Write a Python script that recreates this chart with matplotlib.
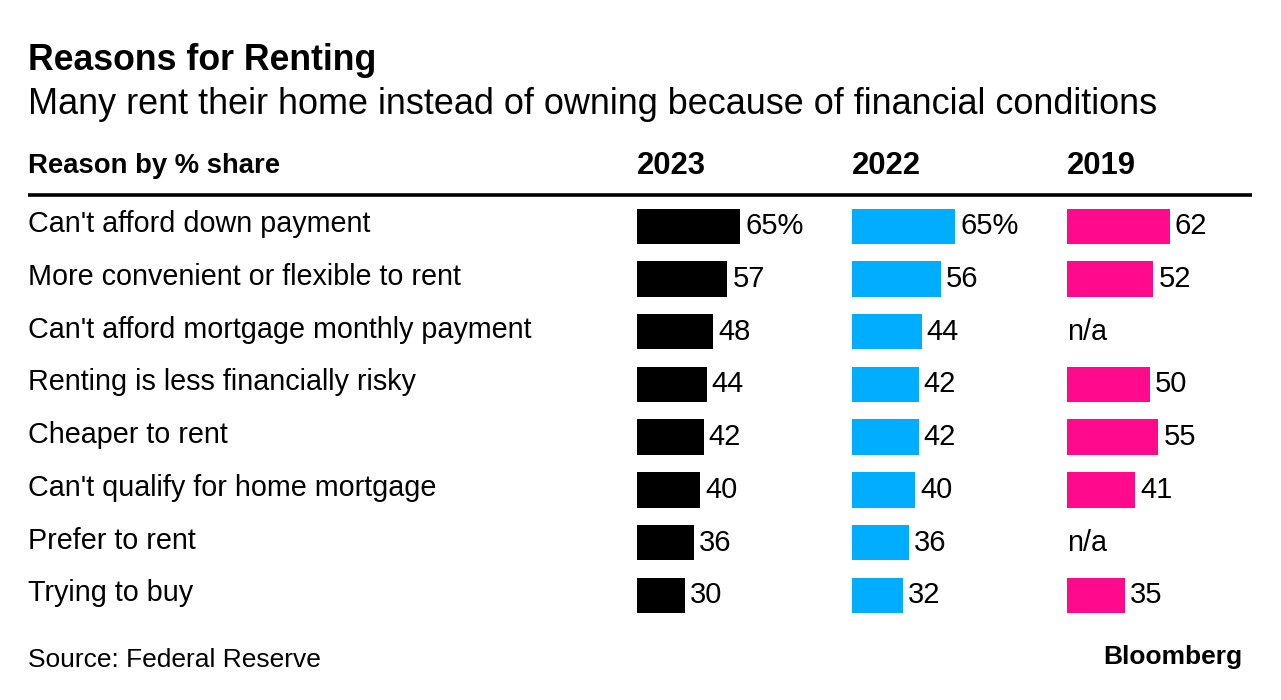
import matplotlib
matplotlib.use("Agg")
import matplotlib.pyplot as plt

reasons = [
    "Can't afford down payment",
    "More convenient or flexible to rent",
    "Can't afford mortgage monthly payment",
    "Renting is less financially risky",
    "Cheaper to rent",
    "Can't qualify for home mortgage",
    "Prefer to rent",
    "Trying to buy",
]
years = ["2023", "2022", "2019"]
v2023 = [65, 57, 48, 44, 42, 40, 36, 30]
v2022 = [65, 56, 44, 42, 42, 40, 36, 32]
v2019 = [62, 52, None, 50, 55, 41, None, 35]
first_pct = [True, True, False]
colors = ["#000000", "#00adff", "#ff0a8c"]

FONT = "Liberation Sans"
plt.rcParams["font.family"] = [FONT, "DejaVu Sans"]

W, H = 1281, 700
fig = plt.figure(figsize=(W / 100, H / 100), dpi=100)
fig.patch.set_facecolor("white")

def fx(px):
    return px / W

def fy(py):
    return 1 - py / H

# titles
fig.text(fx(28), fy(61), "Reasons for Renting", fontsize=25.7, fontweight="bold",
         va="center", ha="left")
fig.text(fx(28), fy(104), "Many rent their home instead of owning because of financial conditions",
         fontsize=25.9, va="center", ha="left")

# header
fig.text(fx(28), fy(166), "Reason by % share", fontsize=19.8, fontweight="bold",
         va="center", ha="left")
col_x = [637, 852, 1067]
for x, yr in zip(col_x, years):
    fig.text(fx(x), fy(166), yr, fontsize=22.3, fontweight="bold", va="center", ha="left")

# header line
line_ax = fig.add_axes([0, 0, 1, 1], zorder=-1)
line_ax.set_xlim(0, W)
line_ax.set_ylim(H, 0)
line_ax.axis("off")
line_ax.plot([28, 1252], [194.5, 194.5], color="black", lw=2.6, solid_capstyle="butt")

# rows
top, row_h = 200, 52.7
n = len(reasons)
ax_bottom = fy(top + row_h * n)
ax_height = row_h * n / H

for i, r in enumerate(reasons):
    fig.text(fx(28), fy(top + row_h * (i + 0.5) - 2), r, fontsize=20.7,
             va="center", ha="left")

bar_px = 103
ax_w_px = 190
series = [v2023, v2022, v2019]
for k, (x, vals, c) in enumerate(zip(col_x, series, colors)):
    ax = fig.add_axes([fx(x), ax_bottom, ax_w_px / W, ax_height])
    vmax = max(v for v in vals if v is not None)
    ax.set_xlim(0, vmax * ax_w_px / bar_px)
    ax.set_ylim(n - 0.5, -0.5)
    ax.axis("off")
    for i, v in enumerate(vals):
        if v is None:
            ax.text(0, i, "n/a", fontsize=20.7, va="center", ha="left")
            continue
        ax.barh(i, v, height=0.67, color=c)
        lab = f"{v}%" if (i == 0 and first_pct[k]) else f"{v}"
        ax.annotate(lab, (v, i), xytext=(5, 0), textcoords="offset pixels",
                    fontsize=21, va="center", ha="left")

# footer
fig.text(fx(28), fy(660), "Source: Federal Reserve", fontsize=19, va="center", ha="left")
fig.text(fx(1242), fy(657), "Bloomberg", fontsize=19, fontweight="bold",
         va="center", ha="right")

fig.savefig("out.png", dpi=100, facecolor="white")
